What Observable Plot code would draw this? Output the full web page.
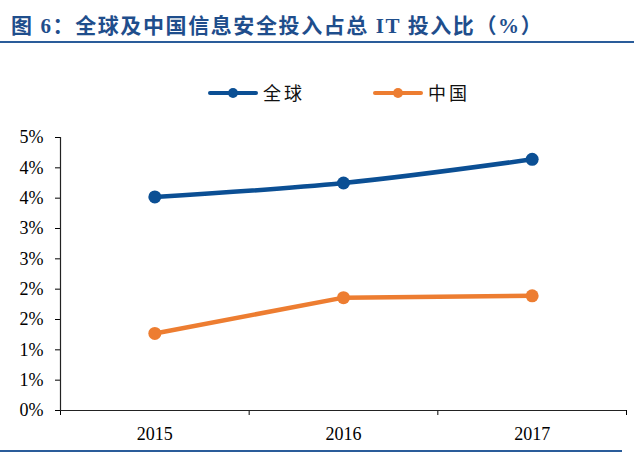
<!DOCTYPE html>
<html>
<head>
<meta charset="utf-8">
<script src="https://cdn.jsdelivr.net/npm/d3@7"></script>
<script src="https://cdn.jsdelivr.net/npm/@observablehq/plot@0.6"></script>
<style>
  html, body { margin: 0; padding: 0; background: #fff; }
  #wrap { width: 640px; position: relative; }
  #title { height: 43px; border-bottom: 2.5px solid #2a5c9a; width: 634px;
    box-sizing: border-box; padding-left: 11px; padding-top: 14px;
    font-family: "Liberation Serif", "Noto Sans CJK SC", serif; font-weight: bold;
    font-size: 21px; color: #1f4e8c; letter-spacing: 1.6px; white-space: nowrap; line-height: 24px; }
  #legend { height: 70px; position: relative;
    font-family: "Noto Sans CJK SC", sans-serif; font-size: 18px; color: #111; }
  .item { position: absolute; top: 40px; height: 20px; }
  .sw { position: absolute; top: 8px; width: 50px; height: 4px; border-radius: 2px; }
  .dot { position: absolute; top: 5px; width: 10px; height: 10px; border-radius: 50%; left: 20px; }
  .lab { position: absolute; left: 55px; top: -4px; letter-spacing: 3px; white-space: nowrap; }
  #chart svg { display: block; }
  #bottom { width: 622px; border-top: 2.5px solid #2a5c9a; }
</style>
</head>
<body>
<div id="wrap">
  <div id="title"></div>
  <div id="legend"></div>
  <div id="chart"></div>
  <div id="bottom"></div>
</div>
<script>
const titleText = "图 6：全球及中国信息安全投入占总 IT 投入比（%）";
const years = [2015, 2016, 2017];
const seriesNames = ["全球", "中国"];
const globalValues = [3.52, 3.75, 4.14];
const chinaValues = [1.27, 1.86, 1.89];
const yTicks = [0, 0.5, 1, 1.5, 2, 2.5, 3, 3.5, 4, 4.5];
const colors = ["#0b4f94", "#ed7d31"];

document.getElementById("title").textContent = titleText;

const legend = document.getElementById("legend");
const legendLeft = [208, 373];
seriesNames.forEach((name, i) => {
  const it = document.createElement("div");
  it.className = "item";
  it.style.left = legendLeft[i] + "px";
  it.innerHTML = `<div class="sw" style="background:${colors[i]}"></div>` +
    `<div class="dot" style="background:${colors[i]}"></div>` +
    `<div class="lab">${name}</div>`;
  legend.appendChild(it);
});

const globalData = years.map((y, i) => ({year: y, value: globalValues[i], series: seriesNames[0]}));
const chinaData = years.map((y, i) => ({year: y, value: chinaValues[i], series: seriesNames[1]}));
const data = [...globalData, ...chinaData];

const bounds = [years[0] - 0.5, ...years.map(y => y + 0.5)];

const chart = Plot.plot({
  width: 640,
  height: 337,
  marginLeft: 60,
  marginRight: 14,
  marginTop: 24,
  marginBottom: 40,
  style: {fontFamily: "Liberation Serif, serif", fontSize: "18px", color: "#000", background: "#fff"},
  x: {domain: [bounds[0], bounds[bounds.length - 1]], ticks: bounds, tickFormat: () => "", tickSize: 5, label: null},
  y: {domain: [0, 4.5], ticks: yTicks, tickFormat: d => Math.round(d) + "%", tickSize: 5, tickPadding: 12, label: null},
  color: {domain: seriesNames, range: colors},
  marks: [
    Plot.ruleX([bounds[0]], {stroke: "#222", strokeWidth: 1.2}),
    Plot.ruleY([0], {stroke: "#222", strokeWidth: 1.2}),
    Plot.text(years, {x: d => d, y: () => 0, text: d => String(d), dy: 24, fontSize: 18, fill: "#000"}),
    Plot.line(globalData, {x: "year", y: "value", stroke: "series", strokeWidth: 4.5, curve: "monotone-x"}),
    Plot.line(chinaData, {x: "year", y: "value", stroke: "series", strokeWidth: 4.5}),
    Plot.dot(data, {x: "year", y: "value", fill: "series", r: 6.5})
  ]
});
document.getElementById("chart").appendChild(chart);
</script>
</body>
</html>
